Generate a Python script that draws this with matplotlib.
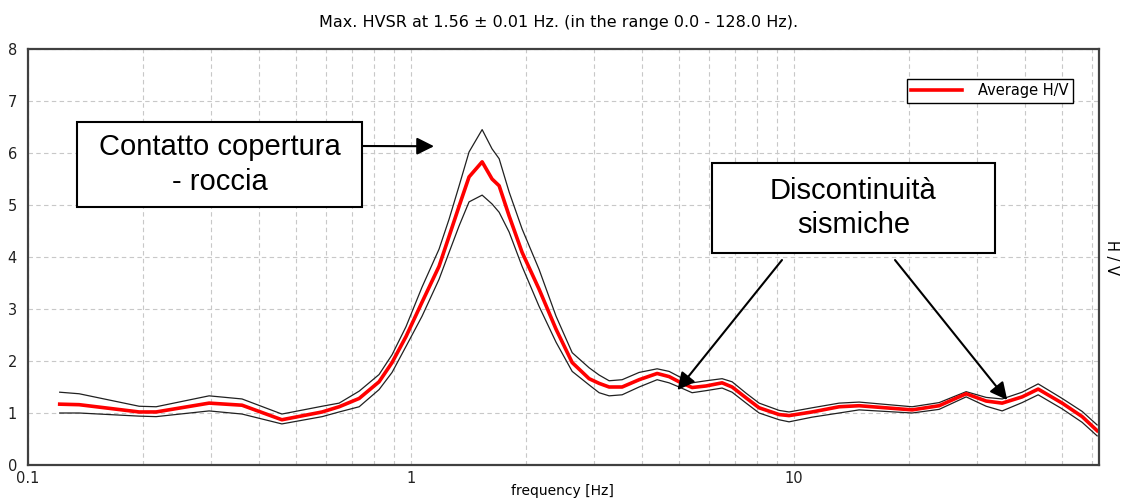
import matplotlib
matplotlib.use('Agg')
import matplotlib.pyplot as plt
from matplotlib.patches import Rectangle
from matplotlib.ticker import FixedLocator, NullFormatter

plt.rcParams['font.family'] = ['DejaVu Sans']

# H/V spectrum
freq = [0.121, 0.136, 0.195, 0.216, 0.297, 0.362, 0.460, 0.586, 0.649, 0.732,
        0.825, 0.892, 0.970, 1.068, 1.183, 1.257, 1.335, 1.417, 1.533, 1.627,
        1.698, 1.803, 1.949, 2.159, 2.391, 2.634, 2.916, 3.097, 3.289, 3.556,
        3.938, 4.389, 4.717, 5.008, 5.416, 5.892, 6.486, 6.888, 7.494, 8.102,
        9.138, 9.70, 11.14, 13.11, 14.78, 20.33, 23.91, 28.12, 31.72, 34.92,
        39.38, 43.36, 50.08, 56.49, 61.8]
hv_avg = [1.17, 1.16, 1.02, 1.02, 1.19, 1.15, 0.87, 1.02, 1.12, 1.28,
          1.60, 1.97, 2.47, 3.13, 3.82, 4.40, 4.98, 5.54, 5.83, 5.50,
          5.37, 4.79, 4.09, 3.38, 2.61, 1.97, 1.66, 1.57, 1.50, 1.50,
          1.64, 1.76, 1.70, 1.60, 1.49, 1.52, 1.58, 1.50, 1.29, 1.10,
          0.97, 0.95, 1.02, 1.12, 1.14, 1.06, 1.14, 1.37, 1.23, 1.19,
          1.31, 1.46, 1.19, 0.93, 0.66]
hv_upper = [1.40, 1.37, 1.13, 1.12, 1.33, 1.27, 0.98, 1.13, 1.19, 1.42,
            1.74, 2.12, 2.66, 3.42, 4.15, 4.73, 5.37, 6.02, 6.45, 6.08,
            5.89, 5.25, 4.54, 3.76, 2.86, 2.16, 1.87, 1.73, 1.62, 1.64,
            1.78, 1.85, 1.80, 1.70, 1.58, 1.62, 1.66, 1.60, 1.38, 1.19,
            1.05, 1.02, 1.10, 1.19, 1.21, 1.12, 1.20, 1.41, 1.30, 1.27,
            1.40, 1.56, 1.28, 1.03, 0.77]
hv_lower = [1.00, 1.00, 0.94, 0.93, 1.04, 0.98, 0.79, 0.93, 1.02, 1.12,
            1.45, 1.78, 2.28, 2.86, 3.57, 4.09, 4.60, 5.06, 5.19, 5.02,
            4.86, 4.48, 3.82, 3.05, 2.36, 1.80, 1.54, 1.39, 1.33, 1.35,
            1.50, 1.64, 1.58, 1.50, 1.39, 1.43, 1.48, 1.40, 1.19, 1.00,
            0.87, 0.83, 0.92, 1.00, 1.06, 1.00, 1.07, 1.31, 1.13, 1.04,
            1.20, 1.35, 1.08, 0.82, 0.56]

W, H = 1125, 500
fs = 10.5
fig = plt.figure(figsize=(W / 100, H / 100), dpi=100)
ax = fig.add_axes([28 / W, 1 - 465 / H, (1099 - 28) / W, (465 - 49) / H])

ax.plot(freq, hv_upper, color='#202020', lw=0.9)
ax.plot(freq, hv_lower, color='#202020', lw=0.9)
ax.plot(freq, hv_avg, color='#ff0000', lw=2.6, label='Average H/V')

ax.set_xscale('log')
ax.set_xlim(0.1, 62.5)
ax.set_ylim(0, 8)
ax.set_yticks(range(0, 9))
ax.xaxis.set_major_locator(FixedLocator([0.1, 1, 10]))
ax.set_xticklabels(['0.1', '1', '10'])
minors = [m * d for d in (0.1, 1, 10) for m in range(2, 10) if m * d < 62.5]
ax.xaxis.set_minor_locator(FixedLocator(minors + [1, 10]))
ax.xaxis.set_minor_formatter(NullFormatter())
ax.tick_params(which='both', length=0, labelsize=fs, colors='#202020')
ax.tick_params(axis='y', pad=8)
ax.tick_params(axis='x', pad=4)
ax.grid(True, which='both', axis='x', color='#c8c8c8', lw=0.8, ls=(0, (4, 3)))
ax.grid(True, which='major', axis='y', color='#c8c8c8', lw=0.8, ls=(0, (4, 3)))
for s in ax.spines.values():
    s.set_color('#404040')
    s.set_linewidth(1.6)

fig.text(562 / W, 1 - 491 / H, 'frequency [Hz]', ha='center', va='center',
         fontsize=10)
fig.text(559 / W, 1 - 22 / H,
         'Max. HVSR at 1.56 \u00b1 0.01 Hz. (in the range 0.0 - 128.0 Hz).',
         ha='center', va='center', fontsize=11.5)
fig.text(1111 / W, 1 - 258 / H, 'H / V', rotation=-90, ha='center',
         va='center', fontsize=fs)

ax.legend(loc='upper right', bbox_to_anchor=(1073 / W, 1 - 79 / H),
          bbox_transform=fig.transFigure, borderaxespad=0, fancybox=False,
          edgecolor='black', framealpha=1, fontsize=fs, handlelength=3.5,
          handletextpad=1.1, borderpad=0.3)

# annotation boxes
boxes = [((77, 122, 362, 207), 'Contatto copertura\n- roccia'),
         ((712, 163, 995, 253), 'Discontinuit\u00e0\nsismiche')]
for (x0, y0, x1, y1), txt in boxes:
    fig.patches.append(Rectangle((x0 / W, 1 - y1 / H), (x1 - x0) / W,
                                 (y1 - y0) / H, transform=fig.transFigure,
                                 fill=True, facecolor='white',
                                 edgecolor='black', lw=1.5, zorder=5))
    fig.text((x0 + x1) / 2 / W, 1 - (y0 + y1) / 2 / H, txt, ha='center',
             va='center', fontsize=21, linespacing=1.3, zorder=6,
             family='Liberation Sans')

arrow = dict(arrowstyle='-|>', mutation_scale=26, lw=1.5, color='black',
             shrinkA=0, shrinkB=0)
ax.annotate('', xy=(1.148, 6.13), xytext=(362 / W, 1 - 146 / H),
            textcoords='figure fraction', arrowprops=arrow)
ax.annotate('', xy=(4.96, 1.44), xytext=(782 / W, 1 - 260 / H),
            textcoords='figure fraction', arrowprops=arrow)
ax.annotate('', xy=(36.0, 1.25), xytext=(895 / W, 1 - 260 / H),
            textcoords='figure fraction', arrowprops=arrow)

fig.savefig('out.png', dpi=100, facecolor='white')
